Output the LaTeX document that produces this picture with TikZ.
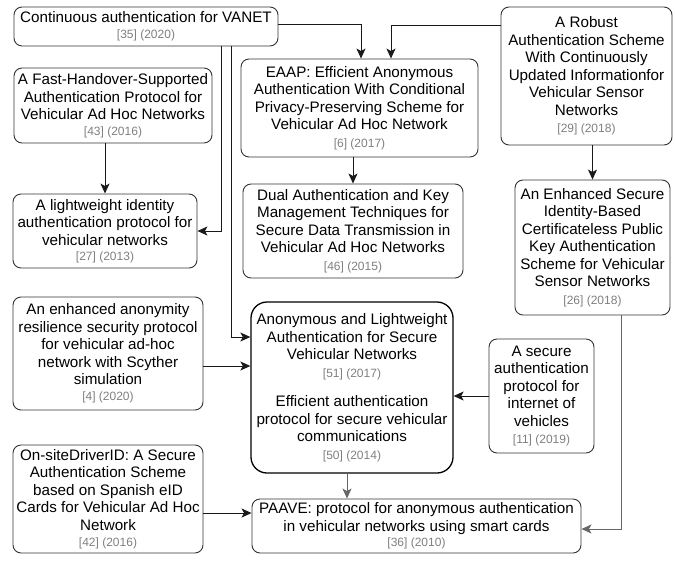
\documentclass[tikz,border=0pt]{standalone}
\usepackage{fontspec}
\setmainfont{Liberation Sans}
\usetikzlibrary{arrows.meta}
\definecolor{refgray}{HTML}{7F7F7F}
\definecolor{boxline}{HTML}{333333}
\definecolor{linegray}{HTML}{666666}
\newcommand{\rf}[1]{{\fontsize{12}{14}\selectfont\color{refgray}#1}}
\begin{document}
\begin{tikzpicture}[x=1pt,y=-1pt,
  box/.style={draw=boxline, line width=0.9pt, rounded corners=8pt, align=center, inner sep=0pt,
    font=\fontsize{15.2}{17.5}\selectfont},
  bigbox/.style={box, draw=black, line width=1.3pt, rounded corners=16pt},
  arr/.style={draw=black!90, line width=1pt, -{Stealth[length=10pt,width=9pt,inset=2.5pt]}},
  garr/.style={arr, draw=linegray, -{Stealth[length=10pt,width=9pt,inset=2.5pt,color=linegray]}}]
\useasboundingbox (0,0) rectangle (675,563);

\node[box, minimum width=264pt, minimum height=39pt] (cont) at (146,26.5)
  {Continuous authentication for VANET\\[-1.5pt]\rf{[35] (2020)}};
\node[box, minimum width=198pt, minimum height=75pt] (fast) at (113,105.5)
  {A Fast-Handover-Supported\\Authentication Protocol for\\Vehicular Ad Hoc Networks\\[-2pt]\rf{[43] (2016)}};
\node[box, minimum width=184pt, minimum height=74pt] (light) at (105,231)
  {A lightweight identity\\authentication protocol for\\vehicular networks\\[-2pt]\rf{[27] (2013)}};
\node[box, minimum width=237pt, minimum height=98pt] (eaap) at (359.5,108)
  {EAAP: Efficient Anonymous\\Authentication With Conditional\\Privacy-Preserving Scheme for\\Vehicular Ad Hoc Network\\\rf{[6] (2017)}};
\node[box, minimum width=220pt, minimum height=94pt] (dual) at (353,231)
  {Dual Authentication and Key\\Management Techniques for\\Secure Data Transmission in\\Vehicular Ad Hoc Networks\\\rf{[46] (2015)}};
\node[box, minimum width=171pt, minimum height=138pt] (robust) at (586.5,76)
  {A Robust\\Authentication Scheme\\With Continuously\\Updated Informationfor\\Vehicular Sensor\\Networks\\\rf{[29] (2018)}};
\node[box, minimum width=155pt, minimum height=135pt] (enh) at (592.5,247.5)
  {An Enhanced Secure\\Identity-Based\\Certificateless Public\\Key Authentication\\Scheme for Vehicular\\Sensor Networks\\\rf{[26] (2018)}};
\node[box, minimum width=190pt, minimum height=113pt] (anonres) at (108,353.5)
  {An enhanced anonymity\\resilience security protocol\\for vehicular ad-hoc\\network with Scyther\\simulation\\[-1.5pt]\rf{[4] (2020)}};
\node[bigbox, minimum width=202pt, minimum height=171pt] (anon) at (352,387.5)
  {Anonymous and Lightweight\\Authentication for Secure\\Vehicular Networks\\\rf{[51] (2017)}\\[12pt]Efficient authentication\\protocol for secure vehicular\\communications\\\rf{[50] (2014)}};
\node[box, minimum width=105pt, minimum height=114pt] (secure) at (541.5,396)
  {A secure\\authentication\\protocol for\\internet of\\vehicles\\\rf{[11] (2019)}};
\node[box, minimum width=190pt, minimum height=108pt] (onsite) at (108,499)
  {On-siteDriverID: A Secure\\Authentication Scheme\\based on Spanish eID\\Cards for Vehicular Ad Hoc\\Network\\[-1.5pt]\rf{[42] (2016)}};
\node[box, minimum width=329pt, minimum height=54pt] (paave) at (416.5,526)
  {PAAVE: protocol for anonymous authentication\\in vehicular networks using smart cards\\[-2pt]\rf{[36] (2010)}};

\draw[arr] ([xshift=75pt]cont.south) |- (light.east);
\draw[arr] ([xshift=85pt]cont.south) |- ([yshift=50.5pt]anon.west);
\draw[arr] ([yshift=2.5pt]cont.east) -| ([xshift=1.5pt]eaap.north);
\draw[arr] ([yshift=51pt]robust.west) -| ([xshift=31.5pt]eaap.north);
\draw[arr] (fast.south -| light.north) -- (light.north);
\draw[arr] (eaap.south -| dual.north) -- (dual.north);
\draw[arr] (robust.south -| enh.north) -- (enh.north);
\draw[arr] ([yshift=-12.5pt]anonres.east) -- ([yshift=21.5pt]anon.west);
\draw[arr] (secure.west) -- (secure.west -| anon.east);
\draw[garr] ([xshift=-5pt]anon.south) -- ([xshift=-69.5pt]paave.north);
\draw[garr] ([xshift=28.5pt]enh.south) |- ([yshift=-3pt]paave.east);
\draw[arr] ([yshift=-14pt]onsite.east) -- ([yshift=13pt]paave.west);
\end{tikzpicture}
\end{document}
